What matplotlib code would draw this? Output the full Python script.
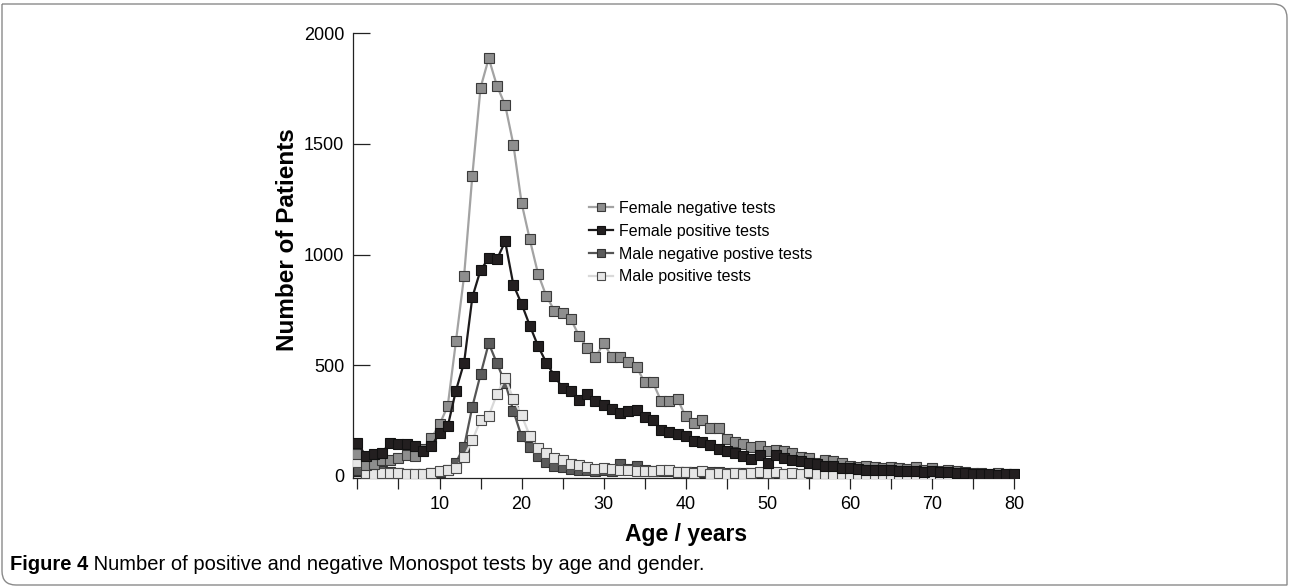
"""Monospot tests by age and gender (Figure 4 recreation)."""

import matplotlib

matplotlib.use("Agg")
import matplotlib.pyplot as plt
from matplotlib.path import Path
from matplotlib.patches import PathPatch

plt.rcParams["font.family"] = ["Liberation Sans", "DejaVu Sans"]

ages = list(range(0, 81))

female_negative = [
    100, 50, 55, 70, 72, 82, 95, 90, 120, 170,
    232, 315, 607, 905, 1357, 1754, 1887, 1762, 1676, 1497,
    1233, 1068, 914, 813, 747, 735, 708, 633, 577, 535,
    600, 537, 537, 514, 492, 422, 422, 338, 338, 346,
    268, 238, 253, 215, 215, 166, 151, 145, 130, 136,
    114, 117, 110, 102, 87, 80, 57, 72, 65, 57,
    45, 39, 45, 39, 35, 40, 35, 30, 40, 28,
    33, 22, 25, 20, 15, 14, 14, 10, 12, 6,
    6,
]
female_positive = [
    150, 90, 100, 105, 150, 143, 143, 135, 110, 133,
    193, 223, 385, 512, 807, 930, 983, 979, 1059, 863,
    777, 679, 587, 512, 452, 396, 381, 343, 370, 336,
    321, 300, 286, 292, 298, 265, 253, 208, 200, 190,
    178, 157, 151, 140, 120, 110, 102, 90, 75, 95,
    57, 95, 80, 72, 65, 57, 54, 45, 42, 35,
    35, 30, 27, 27, 24, 24, 22, 20, 22, 18,
    20, 15, 15, 12, 12, 10, 10, 8, 2, 6,
    6,
]
male_negative = [
    27, 5, 48, 20, 15, 12, 10, 10, 10, 12,
    15, 25, 60, 132, 312, 458, 599, 508, 420, 293,
    178, 128, 90, 62, 45, 38, 32, 28, 24, 22,
    25, 22, 52, 30, 45, 25, 22, 20, 22, 18,
    18, 16, 17, 15, 15, 14, 13, 14, 12, 12,
    11, 12, 10, 10, 10, 9, 20, 9, 8, 8,
    8, 7, 7, 6, 6, 6, 5, 5, 5, 5,
    4, 4, 4, 4, 4, 3, 3, 3, 3, 3,
    3,
]
male_positive = [
    62, 12, 10, 12, 12, 12, 10, 10, 10, 12,
    20, 27, 35, 87, 160, 252, 271, 370, 441, 347,
    273, 181, 125, 105, 82, 70, 55, 47, 38, 30,
    33, 30, 25, 24, 20, 20, 20, 24, 24, 15,
    15, 12, 20, 8, 12, 10, 12, 10, 12, 15,
    12, 18, 10, 12, 10, 15, 8, 10, 5, 8,
    5, 10, 3, 5, 4, 5, 3, 3, 3, 3,
    3, 2, 2, 2, 2, 2, 2, 2, 2, 2,
    2,
]

series_labels = [
    "Female negative tests",
    "Female positive tests",
    "Male negative postive tests",
    "Male positive tests",
]
y_ticks = [0, 500, 1000, 1500, 2000]
x_ticks = list(range(0, 81, 5))
x_tick_labels = [str(t) if t % 10 == 0 and t > 0 else "" for t in x_ticks]

W, H = 1289, 587


def fx(px):
    return px / W


def fy(py):
    return 1 - py / H


def _frame(fig):
    # figure box: square top-left / bottom-right, rounded top-right / bottom-left
    x0, x1, y0, y1, r = fx(2), fx(1287), fy(585), fy(4), 14
    rx, ry = r / W, r / H
    verts = [
        (x0, y1), (x1 - rx, y1), (x1, y1), (x1, y1 - ry),
        (x1, y0), (x0 + rx, y0), (x0, y0), (x0, y0 + ry), (x0, y1),
    ]
    codes = [
        Path.MOVETO, Path.LINETO, Path.CURVE3, Path.CURVE3,
        Path.LINETO, Path.LINETO, Path.CURVE3, Path.CURVE3, Path.LINETO,
    ]
    fig.add_artist(PathPatch(Path(verts, codes), transform=fig.transFigure,
                             fill=False, edgecolor="#8a8a8a", linewidth=1.0))


def main():
    fig = plt.figure(figsize=(W / 100, H / 100), dpi=100)
    ax = fig.add_axes([fx(352.5), fy(478), fx(1019 - 352.5), (478 - 33.3) / H])

    styles = [
        # label, data, line colour, face, edge, zorder
        (series_labels[0], female_negative, "#a3a3a3", "#8e8e8e", "#3a3a3a", 4),
        (series_labels[1], female_positive, "#1c1a1b", "#231f20", "#111111", 5),
        (series_labels[2], male_negative, "#555555", "#5b5b5b", "#333333", 2),
        (series_labels[3], male_positive, "#d9d9d9", "#e6e6e6", "#4a4a4a", 3),
    ]
    for label, data, lc, fc, ec, z in styles:
        ax.plot(ages, data, color=lc, linewidth=1.6, marker="s", markersize=7.2,
                markerfacecolor=fc, markeredgecolor=ec, markeredgewidth=0.8,
                label=label, zorder=z)

    ax.set_xlim(-0.6, 80.6)
    ax.set_ylim(-10, 2000)
    ax.spines["top"].set_visible(False)
    ax.spines["right"].set_visible(False)
    for s in ("left", "bottom"):
        ax.spines[s].set_linewidth(0.9)
        ax.spines[s].set_color("#222222")
    ax.spines["bottom"].set_bounds(-0.6, 80)

    ax.set_yticks(y_ticks)
    ax.set_xticks(x_ticks)
    ax.set_xticklabels(x_tick_labels)
    ax.tick_params(axis="y", direction="in", length=12, width=0.9, pad=6,
                   labelsize=13, color="#222222")
    ax.tick_params(axis="x", direction="out", length=8, width=0.9, pad=5,
                   labelsize=13, color="#222222")

    ax.legend(loc="upper left", bbox_to_anchor=(fx(589), fy(201)),
              bbox_transform=fig.transFigure, frameon=False, fontsize=11.5,
              handlelength=1.5, handletextpad=0.35, labelspacing=0.49,
              markerscale=0.75, borderpad=0, borderaxespad=0)

    fig.text(fx(288), fy(240), "Number of Patients", rotation=90, ha="center",
             va="center", fontsize=17.5, fontweight="bold")
    fig.text(fx(686), fy(535), "Age / years", ha="center", va="center",
             fontsize=16.5, fontweight="bold")

    t1 = fig.text(fx(10), fy(565), "Figure 4", ha="left", va="center",
                  fontsize=14.5, fontweight="bold")
    ax.annotate(" Number of positive and negative Monospot tests by age and gender.",
                xy=(1, 0.5), xycoords=t1, ha="left", va="center",
                fontsize=14.5, annotation_clip=False)

    _frame(fig)
    fig.savefig("out.png", dpi=100)
    plt.close(fig)


if __name__ == "__main__":
    main()
